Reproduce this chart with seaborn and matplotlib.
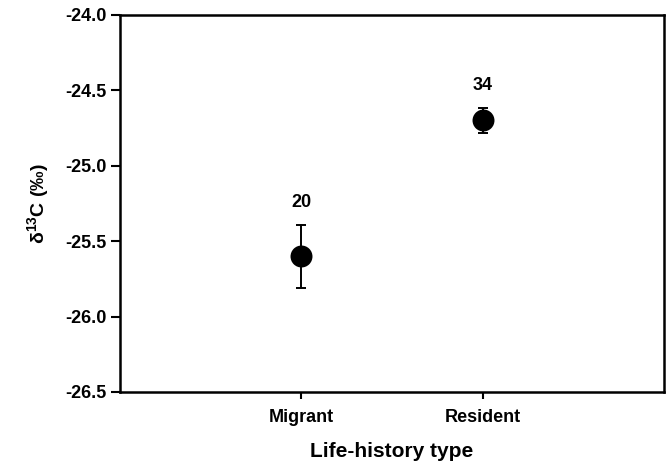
import matplotlib
matplotlib.use("Agg")
import matplotlib.pyplot as plt
import seaborn as sns
import pandas as pd

# Mean delta-13C by life-history type, with standard errors and sample sizes
groups = ["Migrant", "Resident"]
mean_d13c = [-25.60, -24.70]
se_d13c = [0.21, 0.085]
n_fish = [20, 34]

yticks = [-26.5, -26.0, -25.5, -25.0, -24.5, -24.0]

sns.set_theme(style="ticks")
plt.rcParams["font.family"] = ["Liberation Sans", "DejaVu Sans"]
plt.rcParams["font.weight"] = "bold"
plt.rcParams["text.color"] = "black"
plt.rcParams["axes.labelcolor"] = "black"
plt.rcParams["xtick.color"] = "black"
plt.rcParams["ytick.color"] = "black"
plt.rcParams["mathtext.fontset"] = "custom"
plt.rcParams["mathtext.rm"] = "Liberation Sans:bold"
plt.rcParams["mathtext.bf"] = "Liberation Sans:bold"
plt.rcParams["mathtext.default"] = "bf"

df = pd.DataFrame({"group": groups, "mean": mean_d13c, "se": se_d13c, "n": n_fish})

fig, ax = plt.subplots(figsize=(6.68, 4.65), dpi=100)
fig.subplots_adjust(left=0.18, right=0.994, top=0.968, bottom=0.157)

sns.scatterplot(data=df, x="group", y="mean", ax=ax, s=250, color="black",
                edgecolor="black", linewidth=0, zorder=3, legend=False)
ax.errorbar(range(len(groups)), df["mean"], yerr=df["se"], fmt="none",
            ecolor="black", elinewidth=1.4, capsize=3.8, capthick=1.4, zorder=2)

for i, row in df.iterrows():
    ax.annotate(f"{row['n']}", xy=(i, row["mean"] + row["se"]),
                xytext=(0, 16), textcoords="offset points",
                ha="center", va="center", fontsize=13, fontweight="bold",
                color="black")

ax.set_xlim(-1, 2)
ax.set_ylim(-26.5, -24.0)
ax.set_yticks(yticks)
ax.set_yticklabels([f"{v:.1f}" for v in yticks])

ax.set_xlabel("Life-history type", fontsize=15, fontweight="bold", labelpad=12)
ax.set_ylabel("δ$^{13}$C (‰)", fontsize=14, fontweight="bold", labelpad=10)

for side in ["left", "right", "top", "bottom"]:
    ax.spines[side].set_visible(True)
    ax.spines[side].set_linewidth(1.8)
    ax.spines[side].set_color("black")

ax.tick_params(axis="both", direction="out", width=1.5, colors="black",
               labelsize=13)
ax.tick_params(axis="y", length=6.5, pad=3.5)
ax.tick_params(axis="x", length=5, pad=7)
for lab in ax.get_xticklabels() + ax.get_yticklabels():
    lab.set_fontweight("bold")

fig.savefig("out.png", dpi=100, facecolor="white")
